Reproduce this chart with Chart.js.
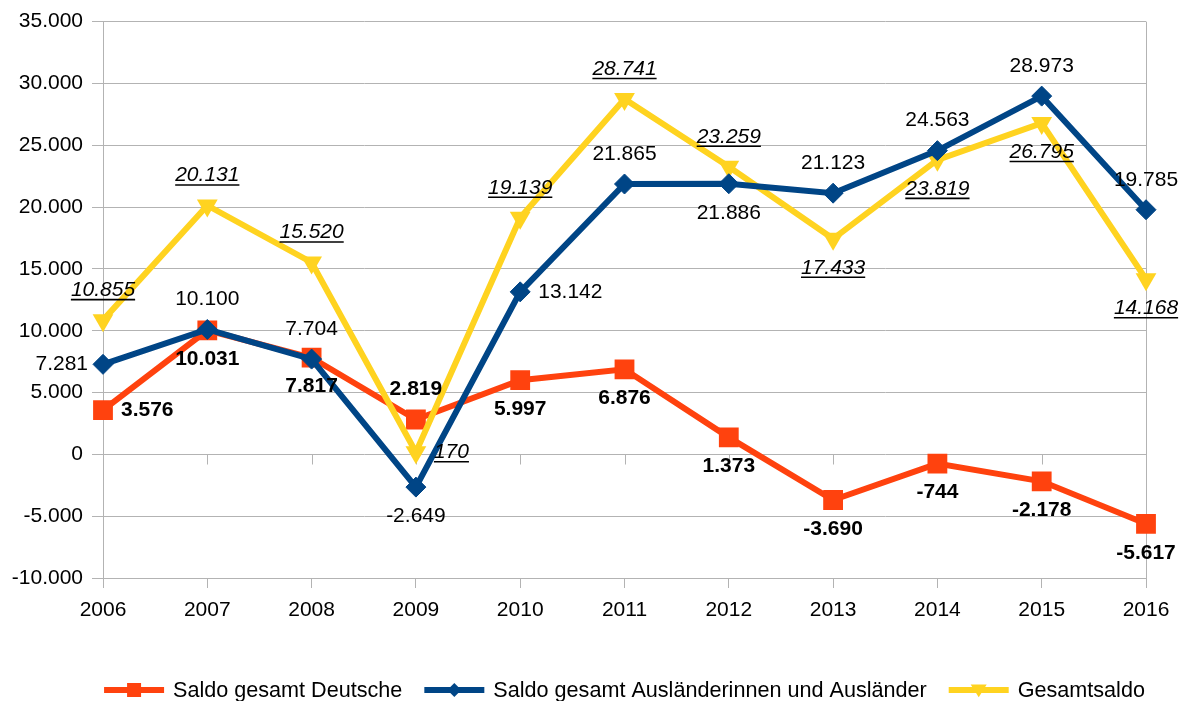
<!DOCTYPE html>
<html><head><meta charset="utf-8">
<script src="https://cdn.jsdelivr.net/npm/chart.js@4.4.1/dist/chart.umd.min.js"></script>
<style>html,body{margin:0;padding:0;background:#fff}#wrap{width:1187px;height:701px;position:relative}</style>
</head><body><div id="wrap"><canvas id="c"></canvas></div>
<script>
// ---- data ----
const years = ['2006','2007','2008','2009','2010','2011','2012','2013','2014','2015','2016'];
const deutsche   = [3576, 10031, 7817, 2819, 5997, 6876, 1373, -3690, -744, -2178, -5617];
const auslaender = [7281, 10100, 7704, -2649, 13142, 21865, 21886, 21123, 24563, 28973, 19785];
const gesamt     = [10855, 20131, 15520, 170, 19139, 28741, 23259, 17433, 23819, 26795, 14168];
const seriesNames = ['Saldo gesamt Deutsche', 'Saldo gesamt Ausländerinnen und Ausländer', 'Gesamtsaldo'];
const yMin = -10000, yMax = 35000, yStep = 5000;
// label placement relative to each point
const posDeutsche   = ['right','below','below','above','below','below','below','below','below','below','below'];
const posAuslaender = ['left','above','above','below','right','above','below','above','above','above','above'];
const posGesamt     = ['above','above','above','right','above','above','above','below','below','below','below'];

const FONT = "'Liberation Sans', Arial, sans-serif";
const GRID = '#b3b3b3';
function fmt(v){
  const s = Math.abs(v).toString().replace(/\B(?=(\d{3})+(?!\d))/g, '.');
  return (v < 0 ? '-' : '') + s;
}

const labelStyles = [
  {font: 'bold 21px ' + FONT, underline: false, pos: posDeutsche},
  {font: '21px ' + FONT, underline: false, pos: posAuslaender},
  {font: 'italic 21px ' + FONT, underline: true, pos: posGesamt}
];

const dataLabelPlugin = {
  id: 'dataLabels',
  afterDatasetsDraw(chart) {
    const ctx = chart.ctx;
    ctx.save();
    ctx.fillStyle = '#000';
    ctx.strokeStyle = '#000';
    chart.data.datasets.forEach((ds, di) => {
      const st = labelStyles[di];
      const meta = chart.getDatasetMeta(di);
      ctx.font = st.font;
      ctx.textBaseline = 'middle';
      meta.data.forEach((el, i) => {
        const txt = fmt(ds.data[i]);
        const p = st.pos[i];
        let x = el.x, y = el.y, align = 'center';
        if (p === 'above') y -= 30;
        else if (p === 'below') y += 29;
        else if (p === 'right') { x += 18; align = 'left'; }
        else if (p === 'left') { x -= 15; align = 'right'; }
        ctx.textAlign = align;
        ctx.fillText(txt, x, y);
        if (st.underline) {
          const w = ctx.measureText(txt).width;
          let x0 = align === 'center' ? x - w / 2 : (align === 'left' ? x : x - w);
          ctx.lineWidth = 1.6;
          ctx.beginPath();
          ctx.moveTo(x0, y + 9.5);
          ctx.lineTo(x0 + w, y + 9.5);
          ctx.stroke();
        }
      });
    });
    ctx.restore();
  }
};

const framePlugin = {
  id: 'frame',
  beforeDatasetsDraw(chart) {
    const ctx = chart.ctx, a = chart.chartArea;
    const xs = chart.scales.x, ys = chart.scales.y;
    ctx.save();
    ctx.strokeStyle = GRID;
    ctx.lineWidth = 1;
    ctx.beginPath();
    ctx.moveTo(Math.round(a.right) + 0.5, a.top);
    ctx.lineTo(Math.round(a.right) + 0.5, a.bottom);
    const y0 = Math.round(ys.getPixelForValue(0)) + 0.5;
    for (let i = 0; i < years.length; i++) {
      const x = Math.round(xs.getPixelForTick(i)) + 0.5;
      ctx.moveTo(x, y0);
      ctx.lineTo(x, y0 + 10);
    }
    ctx.stroke();
    ctx.restore();
  }
};

function drawMarker(ctx, style, x, y, r) {
  ctx.beginPath();
  if (style === 'rect') {
    ctx.rect(x - r, y - r, 2 * r, 2 * r);
  } else if (style === 'rectRot') {
    ctx.moveTo(x, y - r); ctx.lineTo(x + r, y); ctx.lineTo(x, y + r); ctx.lineTo(x - r, y); ctx.closePath();
  } else {
    ctx.moveTo(x - r, y - r * 0.7); ctx.lineTo(x + r, y - r * 0.7); ctx.lineTo(x, y + r * 0.9); ctx.closePath();
  }
  ctx.fill();
}

const legendPlugin = {
  id: 'customLegend',
  afterDraw(chart) {
    const ctx = chart.ctx, a = chart.chartArea;
    ctx.save();
    ctx.font = '21.6px ' + FONT;
    ctx.textBaseline = 'middle';
    ctx.textAlign = 'left';
    const lineLen = 60, gapText = 9, gapItem = 22;
    const items = chart.data.datasets.map(ds => ({ds, w: lineLen + gapText + ctx.measureText(ds.label).width}));
    const total = items.reduce((s, it) => s + it.w, 0) + gapItem * (items.length - 1);
    let x = (a.left + a.right) / 2 - total / 2;
    const y = 690;
    const markerR = [7, 7, 8];
    items.forEach((it, i) => {
      const ds = it.ds;
      ctx.strokeStyle = ds.borderColor;
      ctx.fillStyle = ds.borderColor;
      ctx.lineWidth = 6;
      ctx.beginPath();
      ctx.moveTo(x, y);
      ctx.lineTo(x + lineLen, y);
      ctx.stroke();
      drawMarker(ctx, ds.pointStyle, x + lineLen / 2, y, markerR[i]);
      ctx.fillStyle = '#000';
      ctx.fillText(ds.label, x + lineLen + gapText, y + 1);
      x += it.w + gapItem;
    });
    ctx.restore();
  }
};

new Chart(document.getElementById('c'), {
  type: 'line',
  data: {
    labels: years,
    datasets: [
      {label: seriesNames[0], data: deutsche, borderColor: '#ff420e', backgroundColor: '#ff420e',
       pointBackgroundColor: '#ff420e', pointBorderColor: '#ff420e', pointStyle: 'rect', pointRadius: 14,
       pointBorderWidth: 0, borderWidth: 6, order: 3},
      {label: seriesNames[1], data: auslaender, borderColor: '#004586', backgroundColor: '#004586',
       pointBackgroundColor: '#004586', pointBorderColor: '#004586', pointStyle: 'rectRot', pointRadius: 10,
       pointBorderWidth: 1, borderWidth: 6, order: 1},
      {label: seriesNames[2], data: gesamt, borderColor: '#ffd320', backgroundColor: '#ffd320',
       pointBackgroundColor: '#ffd320', pointBorderColor: '#ffd320', pointStyle: 'triangle', pointRotation: 180,
       pointRadius: 12, pointBorderWidth: 0, borderWidth: 6, order: 2}
    ]
  },
  options: {
    responsive: true,
    maintainAspectRatio: false,
    animation: false,
    events: [],
    layout: {padding: {top: 19, right: 41, left: 0, bottom: 0}},
    elements: {line: {tension: 0, borderJoinStyle: 'miter', borderCapStyle: 'butt'}},
    plugins: {legend: {display: false}, tooltip: {enabled: false}},
    scales: {
      x: {
        type: 'category', offset: false,
        grid: {drawOnChartArea: false, drawTicks: true, tickLength: 10, color: GRID},
        border: {display: true, color: GRID},
        ticks: {font: {family: FONT, size: 21}, color: '#000', padding: 10, maxRotation: 0, autoSkip: false},
        afterFit(s) { s.height = 123; }
      },
      y: {
        min: yMin, max: yMax,
        grid: {color: GRID, tickLength: 11},
        border: {display: true, color: GRID},
        ticks: {stepSize: yStep, font: {family: FONT, size: 21}, color: '#000', padding: 9, callback: v => fmt(v)},
        afterFit(s) { s.width = 103; }
      }
    }
  },
  plugins: [framePlugin, dataLabelPlugin, legendPlugin]
});
</script>
</body></html>
